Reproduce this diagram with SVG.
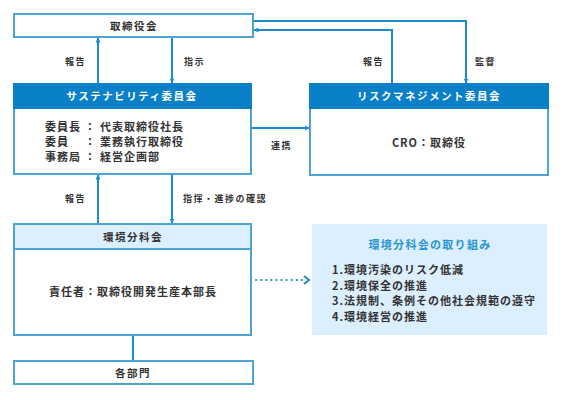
<svg xmlns="http://www.w3.org/2000/svg" width="563" height="400" viewBox="0 0 563 400">
<defs>
<marker id="ah" viewBox="0 0 10 10" refX="9" refY="5" markerWidth="5" markerHeight="5" orient="auto" markerUnits="userSpaceOnUse">
<path d="M0,0 L10,5 L0,10 z" fill="#1b8ccc"/>
</marker>
<marker id="chev" viewBox="0 0 10 10" refX="8" refY="5" markerWidth="7" markerHeight="8" orient="auto" markerUnits="userSpaceOnUse">
<path d="M2,1 L8,5 L2,9" fill="none" stroke="#1b8ccc" stroke-width="2"/>
</marker>
<style>
text{font-family:"Noto Sans CJK JP","Noto Sans",sans-serif;font-weight:bold;fill:#333;}
.box{fill:#fff;stroke:#4aa5d4;stroke-width:2;}
.hdr{fill:#0a80c8;}
.lhdr{fill:#dcefff;stroke:#4aa5d4;stroke-width:2;}
.ttl{font-size:10.5px;text-anchor:middle;letter-spacing:1.5px;}
.wt{fill:#fff;}
.body{font-size:11px;letter-spacing:1px;}
.lbl{font-size:9px;letter-spacing:1.5px;}
.ln{fill:none;stroke:#1b8ccc;stroke-width:2;}
.dot{fill:none;stroke:#1b8ccc;stroke-width:2.2;stroke-dasharray:0.1 5;stroke-linecap:round;}
</style>
</defs>
<g id="connectors">
<path class="ln" d="M98,84 V38" marker-end="url(#ah)"/>
<path class="ln" d="M172,37 V83" marker-end="url(#ah)"/>
<path class="ln" d="M253,21 H466 V83" marker-end="url(#ah)"/>
<path class="ln" d="M392,84 V30 H254" marker-end="url(#ah)"/>
<path class="ln" d="M251,128 H309" marker-end="url(#ah)"/>
<path class="ln" d="M98,224 V175" marker-end="url(#ah)"/>
<path class="ln" d="M172,174 V223" marker-end="url(#ah)"/>
<path class="ln" d="M133,335 V361"/>
<path class="dot" d="M256,280 H303"/>
<path d="M304,276 L309,280 L304,284" fill="none" stroke="#1b8ccc" stroke-width="2"/>
<text class="lbl" x="65" y="65">報告</text>
<text class="lbl" x="184" y="65">指示</text>
<text class="lbl" x="363" y="65">報告</text>
<text class="lbl" x="475" y="65">監督</text>
<text class="lbl" x="271" y="149">連携</text>
<text class="lbl" x="65" y="202">報告</text>
<text class="lbl" x="183" y="202">指揮・進捗の確認</text>
</g>
<g id="board">
<rect class="box" x="14" y="14" width="239" height="23"/>
<text class="ttl" x="134" y="29.5" letter-spacing="3">取締役会</text>
</g>
<g id="sustainability">
<rect class="box" x="14" y="84" width="237" height="90"/>
<rect class="hdr" x="13" y="83" width="239" height="26"/>
<text class="ttl wt" x="132" y="100">サステナビリティ委員会</text>
<text class="body" x="45" y="131">委員長 ： 代表取締役社長</text>
<text class="body" x="45" y="146">委員　 ： 業務執行取締役</text>
<text class="body" x="45" y="161">事務局 ： 経営企画部</text>
</g>
<g id="risk">
<rect class="box" x="310" y="84" width="238" height="91"/>
<rect class="hdr" x="309" y="83" width="240" height="26"/>
<text class="ttl wt" x="429" y="100">リスクマネジメント委員会</text>
<text class="body" x="429" y="147" text-anchor="middle" letter-spacing="2.5">CRO：取締役</text>
</g>
<g id="env">
<rect class="box" x="14" y="224" width="237" height="111"/>
<rect class="lhdr" x="14" y="224" width="237" height="25"/>
<text class="ttl" x="133" y="241" letter-spacing="1.5">環境分科会</text>
<text class="body" x="133" y="296" text-anchor="middle">責任者：取締役開発生産本部長</text>
</g>
<g id="depts">
<rect class="box" x="14" y="361" width="239" height="23"/>
<text class="ttl" x="133" y="376.5" letter-spacing="2">各部門</text>
</g>
<g id="initiatives">
<rect x="312" y="224" width="235" height="111" fill="#dcefff"/>
<text x="430" y="249" font-size="11" text-anchor="middle" letter-spacing="1.3" style="fill:#2a95d0">環境分科会の取り組み</text>
<text class="body" x="332" y="274">1.環境汚染のリスク低減</text>
<text class="body" x="332" y="290">2.環境保全の推進</text>
<text class="body" x="332" y="305">3.法規制、条例その他社会規範の遵守</text>
<text class="body" x="332" y="321">4.環境経営の推進</text>
</g>
</svg>
